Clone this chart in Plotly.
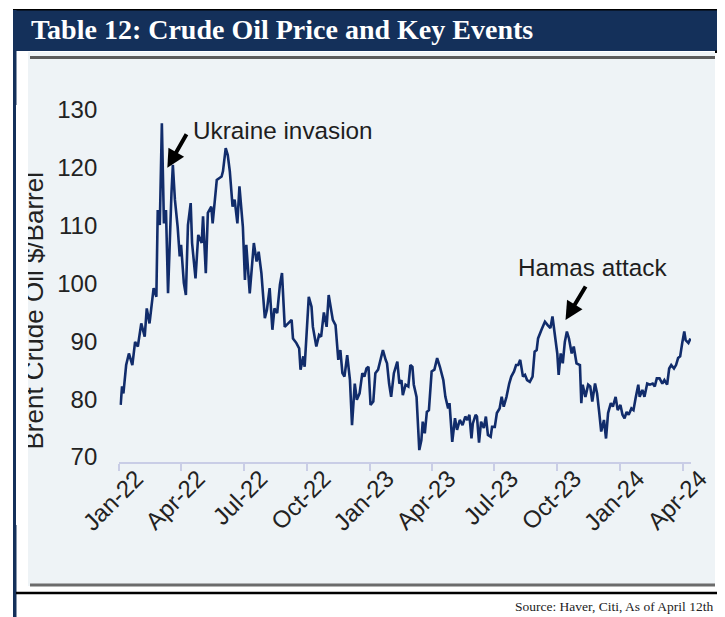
import plotly.graph_objects as go

# page body has an 8px margin: the figure is drawn 8px in from the window edge
PAGE_PAD = 8
W, H = 725 - PAGE_PAD, 617 - PAGE_PAD

dates = [
"2022-01-03","2022-01-05","2022-01-07","2022-01-11","2022-01-15","2022-01-20","2022-01-24","2022-01-28",
"2022-02-02","2022-02-07","2022-02-10","2022-02-14","2022-02-20","2022-02-24","2022-02-26",
"2022-03-01","2022-03-04","2022-03-07","2022-03-10","2022-03-13","2022-03-18","2022-03-20","2022-03-23","2022-03-27","2022-03-30",
"2022-04-01","2022-04-05","2022-04-08","2022-04-11","2022-04-15","2022-04-17","2022-04-22","2022-04-26",
"2022-05-01","2022-05-03","2022-05-07","2022-05-10","2022-05-15","2022-05-17","2022-05-23","2022-05-30",
"2022-06-01","2022-06-05","2022-06-08","2022-06-11","2022-06-15","2022-06-18","2022-06-22","2022-06-25","2022-06-30",
"2022-07-03","2022-07-05","2022-07-10","2022-07-16","2022-07-20","2022-07-23","2022-07-27",
"2022-08-01","2022-08-04","2022-08-08","2022-08-12","2022-08-15","2022-08-19","2022-08-23","2022-08-26","2022-08-30",
"2022-09-04","2022-09-09","2022-09-11","2022-09-16","2022-09-20","2022-09-22","2022-09-26","2022-09-28",
"2022-10-04","2022-10-08","2022-10-10","2022-10-15","2022-10-19","2022-10-22","2022-10-26","2022-10-30",
"2022-11-02","2022-11-06","2022-11-08","2022-11-12","2022-11-16","2022-11-19","2022-11-22","2022-11-25","2022-11-29",
"2022-12-03","2022-12-06","2022-12-10","2022-12-13","2022-12-17","2022-12-21","2022-12-24","2022-12-27","2022-12-30",
"2023-01-02","2023-01-06","2023-01-09","2023-01-13","2023-01-17","2023-01-20","2023-01-24","2023-01-26","2023-01-29",
"2023-02-01","2023-02-05","2023-02-10","2023-02-13","2023-02-16","2023-02-18","2023-02-22","2023-02-26",
"2023-03-01","2023-03-04","2023-03-06","2023-03-10","2023-03-14","2023-03-17","2023-03-19","2023-03-22","2023-03-25","2023-03-28",
"2023-04-01","2023-04-05","2023-04-09","2023-04-13","2023-04-18","2023-04-21","2023-04-25","2023-04-27",
"2023-05-01","2023-05-05","2023-05-08","2023-05-12","2023-05-16","2023-05-20","2023-05-23","2023-05-26","2023-05-29","2023-05-31",
"2023-06-04","2023-06-06","2023-06-09","2023-06-12","2023-06-16","2023-06-19","2023-06-22","2023-06-26","2023-06-28",
"2023-07-02","2023-07-05","2023-07-09","2023-07-12","2023-07-15","2023-07-19","2023-07-23","2023-07-26","2023-07-30",
"2023-08-02","2023-08-05","2023-08-08","2023-08-12","2023-08-15","2023-08-18","2023-08-22","2023-08-26","2023-08-29",
"2023-09-01","2023-09-03","2023-09-08","2023-09-13","2023-09-17","2023-09-21","2023-09-24","2023-09-27",
"2023-10-01","2023-10-03","2023-10-06","2023-10-09","2023-10-12","2023-10-15","2023-10-18","2023-10-22","2023-10-25","2023-10-29",
"2023-11-03","2023-11-05","2023-11-07","2023-11-11","2023-11-15","2023-11-18","2023-11-21","2023-11-25","2023-11-28",
"2023-12-01","2023-12-04","2023-12-08","2023-12-11","2023-12-14","2023-12-18","2023-12-21","2023-12-25","2023-12-28",
"2024-01-01","2024-01-04","2024-01-07","2024-01-10","2024-01-13","2024-01-17","2024-01-20","2024-01-23","2024-01-27","2024-01-29",
"2024-02-02","2024-02-05","2024-02-09","2024-02-13","2024-02-17","2024-02-20","2024-02-23","2024-02-27",
"2024-03-02","2024-03-05","2024-03-09","2024-03-12","2024-03-15","2024-03-19","2024-03-22","2024-03-25","2024-03-28","2024-03-31",
"2024-04-03","2024-04-05","2024-04-09","2024-04-12",
]

brent = [
79.0, 82.2, 81.0, 85.9, 87.9, 85.9, 89.9, 89.1,
93.1, 90.8, 95.7, 93.1, 99.2, 97.7, 112.7,
110.1, 127.7, 110.4, 112.7, 98.3, 115.6, 120.5, 114.5, 109.8, 104.7,
106.7, 100.1, 98.0, 110.1, 113.9, 107.0, 100.9, 108.4,
107.0, 111.6, 101.8, 112.2, 113.3, 110.4, 117.9, 118.5,
119.4, 123.4, 122.2, 119.4, 113.3, 114.5, 110.4, 116.8, 109.8,
100.6, 106.7, 98.3, 107.0, 103.8, 105.5, 101.8,
94.0, 95.4, 99.2, 92.0, 95.7, 94.9, 99.8, 101.8, 92.5,
93.1, 93.7, 90.5, 89.7, 88.8, 85.1, 87.4, 85.6,
97.7, 96.0, 92.5, 89.1, 91.1, 90.8, 95.0, 92.5,
98.0, 95.4, 93.7, 92.8, 86.8, 88.5, 84.5, 83.9, 87.6,
83.3, 75.5, 82.7, 79.9, 81.0, 84.5, 83.9, 85.3, 85.6,
79.0, 79.6, 84.5, 85.1, 87.4, 88.5, 86.8, 86.2, 82.7,
80.4, 84.5, 86.5, 82.7, 83.3, 80.7, 82.5, 82.2,
85.9, 85.6, 82.5, 80.4, 71.2, 72.9, 76.1, 74.1, 77.8, 78.1,
84.8, 85.1, 87.1, 85.6, 83.3, 80.4, 78.4, 79.3,
72.6, 76.7, 74.7, 76.4, 75.5, 77.0, 76.4, 77.3, 73.2, 75.8,
77.3, 77.0, 72.5, 76.1, 75.0, 77.0, 73.8, 73.5, 75.2,
75.2, 77.6, 78.4, 80.4, 78.7, 80.4, 82.7, 83.9, 84.8,
85.9, 85.9, 86.8, 83.9, 84.2, 83.3, 83.0, 83.9, 88.2,
88.5, 90.5, 92.0, 93.4, 92.8, 92.3, 94.3, 91.7,
87.9, 84.2, 87.9, 86.2, 89.9, 91.7, 90.5, 87.9, 89.1, 86.2,
85.9, 79.3, 82.5, 80.4, 82.5, 82.2, 79.6, 82.7, 81.0,
77.8, 74.4, 76.4, 73.2, 77.6, 79.3, 78.7, 80.4, 78.1,
79.0, 77.3, 76.7, 77.8, 77.3, 78.4, 78.1, 80.1, 82.5, 80.4,
81.6, 80.4, 82.7, 82.5, 82.7, 82.2, 83.6, 83.6,
82.7, 83.3, 82.5, 85.3, 85.9, 85.3, 85.9, 87.1, 87.4, 89.7,
91.7, 90.2, 89.7, 90.5,
]

tick_dates = ["2022-01-01","2022-04-01","2022-07-01","2022-10-01","2023-01-01",
              "2023-04-01","2023-07-01","2023-10-01","2024-01-01","2024-04-01"]
tick_labels = ["Jan-22","Apr-22","Jul-22","Oct-22","Jan-23",
               "Apr-23","Jul-23","Oct-23","Jan-24","Apr-24"]
y_ticks = [70, 80, 90, 100, 110, 120, 130]

events = ["Ukraine invasion", "Hamas attack"]
event_dates = ["2022-03-12", "2023-10-13"]
event_values = [120.0, 93.7]

title_text = "Table 12: Crude Oil Price and Key Events"
y_title = "Brent Crude Oil $/Barrel"
source_text = "Source: Haver, Citi, As of April 12th"


def fx(p):
    return (p - PAGE_PAD) / W


def fy(p):
    return 1 - (p - PAGE_PAD) / H


NAVY = "#14305a"
LINE = "#112c6b"
SANS = "Liberation Sans, Arial, sans-serif"
SERIF = "Liberation Serif, Times New Roman, serif"

fig = go.Figure()
fig.add_trace(go.Scatter(x=dates, y=brent, mode="lines",
                         line=dict(color=LINE, width=2.6), hoverinfo="skip",
                         showlegend=False))

shapes = [
    dict(type="rect", x0=fx(13), x1=fx(726), y0=fy(10), y1=fy(51),
         fillcolor=NAVY, line=dict(width=0)),
    dict(type="line", x0=fx(13), x1=fx(726), y0=fy(9.7), y1=fy(9.7),
         line=dict(color="black", width=1.5)),
    dict(type="rect", x0=fx(13), x1=fx(16.5), y0=fy(10), y1=fy(618),
         fillcolor=NAVY, line=dict(width=0)),
    dict(type="rect", x0=fx(715), x1=fx(726), y0=fy(50.5), y1=fy(53),
         fillcolor="black", line=dict(width=0)),
    dict(type="rect", x0=fx(28), x1=fx(715), y0=fy(52), y1=fy(586),
         fillcolor="#eef3f6", line=dict(width=0)),
    dict(type="line", x0=fx(30), x1=fx(715), y0=fy(57.5), y1=fy(57.5),
         line=dict(color="#5b5b5b", width=3)),
    dict(type="line", x0=fx(30), x1=fx(715), y0=fy(585), y1=fy(585),
         line=dict(color="#6b6b6b", width=3)),
    dict(type="line", x0=fx(16), x1=fx(726), y0=fy(593), y1=fy(593),
         line=dict(color="black", width=2.5)),
]
for s in shapes:
    s.update(xref="paper", yref="paper", layer="below")

annotations = [
    dict(x=fx(29), y=fy(30), xref="paper", yref="paper", xanchor="left",
         yanchor="middle", text=title_text, showarrow=False,
         font=dict(family=SERIF, size=28, color="white", weight="bold")),
    dict(x=fx(33), y=fy(311.5), xref="paper", yref="paper", xanchor="center",
         yanchor="middle", text=y_title, textangle=-90, showarrow=False,
         font=dict(family=SANS, size=26, color="#222222")),
    dict(x=fx(22.25), y=fy(315), xref="paper", yref="paper", xanchor="center",
         yanchor="middle", text=" ", showarrow=False, width=11.5, height=420,
         bgcolor="white", borderpad=0, borderwidth=0),
    dict(x=fx(715), y=fy(606), xref="paper", yref="paper", xanchor="right",
         yanchor="middle", text=source_text, showarrow=False,
         font=dict(family=SERIF, size=13.5, color="#222222")),
]

text_offsets = [(24, -37), (-50, -52)]
arrow_tails = [(20, -35), (21, -35)]
for name, d, v, (tax, tay), (aax, aay) in zip(events, event_dates, event_values,
                                               text_offsets, arrow_tails):
    annotations.append(dict(x=d, y=v, xref="x", yref="y", text="",
                            showarrow=True, arrowhead=2, arrowsize=0.9,
                            arrowwidth=4, arrowcolor="black",
                            ax=aax, ay=aay, standoff=0))
    annotations.append(dict(x=d, y=v, xref="x", yref="y", text=name,
                            showarrow=False, xanchor="left", yanchor="middle",
                            xshift=tax, yshift=-tay,
                            font=dict(family=SANS, size=24.3, color="#1e1e1e")))

fig.update_layout(
    width=W, height=H,
    margin=dict(l=0, r=0, t=0, b=0, autoexpand=False),
    paper_bgcolor="white",
    plot_bgcolor="rgba(0,0,0,0)",
    shapes=shapes,
    annotations=annotations,
    showlegend=False,
    xaxis=dict(
        type="date", automargin=False,
        domain=[fx(119.3), fx(691)],
        range=["2022-01-01", "2024-04-12 19:00"],
        tickvals=tick_dates, ticktext=tick_labels, tickangle=-45,
        tickfont=dict(family=SANS, size=24, color="#222222"),
        showline=True, linecolor="#c9cde6", linewidth=2,
        ticks="outside", ticklen=7, tickwidth=2, tickcolor="#c9cde6",
        showgrid=False, zeroline=False,
        ticklabelshift=17, ticklabelstandoff=-16,
    ),
    yaxis=dict(
        automargin=False,
        domain=[fy(462), fy(100)],
        range=[69.135, 131.73],
        tickvals=y_ticks,
        tickfont=dict(family=SANS, size=24, color="#222222"),
        showline=False, showgrid=False, zeroline=False, ticks="",
        ticklabelstandoff=21,
    ),
)

fig.write_html("out.html")
